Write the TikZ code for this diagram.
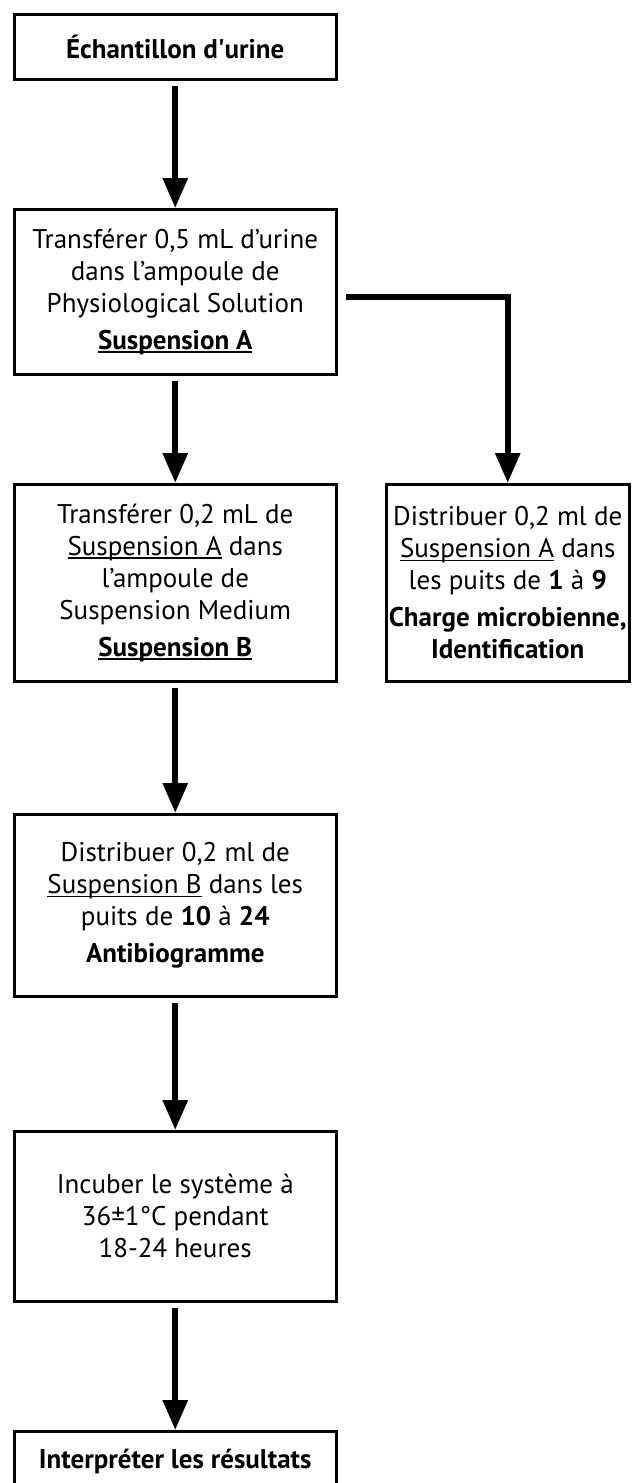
\documentclass[tikz,border=0pt]{standalone}
\usepackage{fontspec}
\setmainfont{PT Sans}
\usetikzlibrary{arrows.meta}
\newsavebox\myulbox
\newcommand\myul[1]{\sbox\myulbox{#1}\rlap{\rule[-3.5pt]{\wd\myulbox}{1.4pt}}\usebox\myulbox}
\begin{document}
\begin{tikzpicture}[x=1pt,y=-1pt,
  box/.style={draw,line width=2.5pt,inner sep=0pt,align=center,
    font=\fontsize{27}{32}\selectfont,anchor=north west,minimum width=322pt},
  conn/.style={line width=6pt,line join=miter,-{Triangle[width=24pt,length=30pt]},shorten <=5pt}]
\useasboundingbox (0,0) rectangle (634,1483);
\node[box,minimum height=65pt] (b1) at (13,13) {\textbf{Échantillon d\textquotesingle urine}};
\node[box,minimum height=165pt] (b2) at (13,208) {Transférer 0,5 mL d’urine\\dans l’ampoule de\\Physiological Solution\\[5pt]\textbf{\myul{Suspension A}}};
\node[box,minimum height=197pt] (b3) at (13,483) {Transférer 0,2 mL de\\\myul{Suspension A} dans\\l’ampoule de\\Suspension Medium\\[5pt]\textbf{\myul{Suspension B}}};
\node[box,minimum height=197pt,minimum width=243pt] (r) at (385,483) {Distribuer 0,2 ml de\\\myul{Suspension A} dans\\les puits de \textbf{1} à \textbf{9}\\[5pt]\textbf{Charge microbienne,}\\\textbf{Identification}};
\node[box,minimum height=182pt] (b4) at (13,813) {Distribuer 0,2 ml de\\\myul{Suspension B} dans les\\puits de \textbf{10} à \textbf{24}\\[5pt]\textbf{Antibiogramme}};
\node[box,minimum height=170pt] (b5) at (13,1130) {Incuber le système à\\36±1°C pendant\\18-24 heures};
\node[box,minimum height=60pt] (b6) at (13,1430) {\textbf{Interpréter les résultats}};
\draw[conn] (b1) -- (b2);
\draw[conn] (b2) -- (b3);
\draw[conn] ([shift={(3,5)}]b2.east) -| (r.north);
\draw[conn] (b3) -- (b4);
\draw[conn] (b4) -- (b5);
\draw[conn] (b5) -- (b6);
\end{tikzpicture}
\end{document}
